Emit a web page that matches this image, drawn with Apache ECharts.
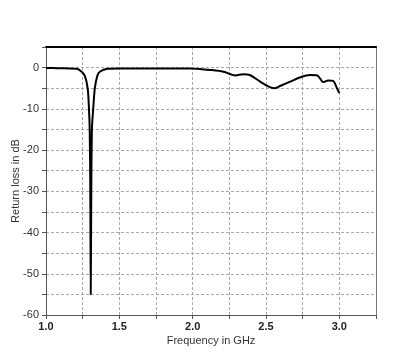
<!DOCTYPE html>
<html>
<head>
<meta charset="utf-8">
<script src="https://cdn.jsdelivr.net/npm/echarts@6/dist/echarts.min.js"></script>
<style>html,body{margin:0;padding:0;background:#fff}#c{width:408px;height:359px}</style>
</head>
<body>
<div id="c"></div>
<script>
var freqGHz = [1.00,1.05,1.10,1.15,1.21,1.243,1.265,1.284,1.293,1.298,1.302,1.305,1.308,1.313,1.322,1.333,1.35,1.367,1.42,1.5,1.6,1.7,1.8,1.9,1.98,2.05,2.12,2.21,2.29,2.345,2.39,2.46,2.53,2.56,2.6,2.665,2.73,2.80,2.85,2.89,2.925,2.957,2.984,3.0];
var returnLossDb = [-0.1,-0.12,-0.15,-0.2,-0.3,-1.0,-2.0,-5,-10,-15,-30,-55,-35,-15,-10,-5,-2,-1,-0.3,-0.2,-0.2,-0.2,-0.2,-0.2,-0.2,-0.35,-0.55,-1.0,-1.9,-1.6,-1.8,-3.4,-4.8,-5.0,-4.4,-3.4,-2.4,-1.8,-1.9,-3.5,-3.1,-3.2,-5.0,-6.2];
var xTickLabels = ['1.0','1.5','2.0','2.5','3.0'];
var yTickLabels = ['0','-10','-20','-30','-40','-50','-60'];

var pts = freqGHz.map(function(f,i){return [f, returnLossDb[i]];});
var chart = echarts.init(document.getElementById('c'), null, {renderer:'canvas'});
var font = 'Liberation Sans, Arial, sans-serif';
var gridLine = {show:true, lineStyle:{color:'#b0a4b0', type:[3,2], width:1}};
chart.setOption({
  animation:false,
  backgroundColor:'#fff',
  grid:{left:46, right:32, top:47, bottom:44, containLabel:false, outerBoundsMode:'none'},
  xAxis:[{
    type:'value', min:1, max:3.25, interval:0.25,
    name:'Frequency in GHz', nameLocation:'middle', nameGap:20, nameMoveOverlap:false,
    nameTextStyle:{fontFamily:font, fontSize:11, color:'#333'},
    axisLine:{show:true, onZero:false, lineStyle:{color:'#555', width:1}},
    axisTick:{show:true, length:4, lineStyle:{color:'#555'}},
    axisLabel:{fontFamily:font, fontSize:11, fontWeight:'bold', color:'#222', margin:6,
      formatter:function(v){var s=v.toFixed(1); return xTickLabels.indexOf(s)>=0 && Math.abs(v*2-Math.round(v*2))<1e-6 ? s : '';}},
    splitLine:gridLine
  },{
    type:'value', position:'top', min:1, max:3.25,
    axisLine:{show:true, onZero:false, lineStyle:{color:'#000', width:2}},
    axisTick:{show:false}, axisLabel:{show:false}, splitLine:{show:false}
  }],
  yAxis:[{
    type:'value', min:-60, max:5, interval:5,
    name:'Return loss in dB', nameLocation:'middle', nameGap:25, nameRotate:90, nameMoveOverlap:false,
    nameTextStyle:{fontFamily:font, fontSize:11, color:'#333'},
    axisLine:{show:true, onZero:false, lineStyle:{color:'#555', width:1}},
    axisTick:{show:true, length:4, lineStyle:{color:'#555'}},
    axisLabel:{fontFamily:font, fontSize:11, color:'#333', margin:7,
      formatter:function(v){var s=String(Math.round(v)); return yTickLabels.indexOf(s)>=0 ? s : '';}},
    splitLine:gridLine
  },{
    type:'value', position:'right', min:-60, max:5,
    axisLine:{show:true, onZero:false, lineStyle:{color:'#777', width:1}},
    axisTick:{show:false}, axisLabel:{show:false}, splitLine:{show:false}
  }],
  series:[{
    type:'line', data:pts, showSymbol:false, symbol:'none', smooth:0.3,
    lineStyle:{color:'#000', width:2}, xAxisIndex:0, yAxisIndex:0
  }]
});
</script>
</body>
</html>
